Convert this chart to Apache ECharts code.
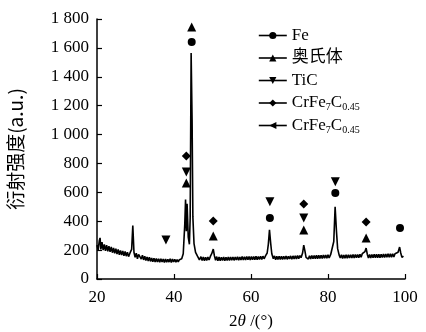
<!DOCTYPE html>
<html>
<head>
    <meta charset="UTF-8">
    <script type="text/javascript" src="https://cdn.jsdelivr.net/npm/echarts@6/dist/echarts.min.js"></script>
    <style type="text/css">
        *{
            margin: 0;
            padding: 0;
        }
        #main{
            width: 426px;
            height: 332px;
            background: #fff;
        }
    </style>
</head>
<body>
<div id="main"></div>
<script type="text/javascript">
    // XRD 曲线 [2θ, 强度]
    var curveLow = [
        [20, 235], [20.3, 200], [20.6, 265], [20.8, 285], [21.0, 205], [21.3, 255], [21.6, 200], [21.9, 240],
        [22.2, 195], [22.5, 235], [22.8, 192], [23.1, 228], [23.4, 188], [23.7, 222], [24, 182], [24.3, 215],
        [24.6, 178], [24.9, 210], [25.2, 172], [25.5, 205], [25.8, 168], [26.1, 198], [26.4, 165], [26.7, 195],
        [27, 160], [27.3, 190], [27.6, 158], [27.9, 186], [28.2, 155], [28.6, 182], [29, 205],
        [29.3, 370], [29.6, 185], [29.9, 150], [30.2, 178], [30.5, 140], [30.8, 170], [31.2, 182], [31.5, 138],
        [31.8, 165], [32.1, 132], [32.4, 158], [32.7, 128], [33, 152], [33.3, 125], [33.6, 150], [33.9, 122],
        [34.2, 146], [34.5, 120], [34.8, 143], [35.1, 118], [35.4, 142], [35.7, 117], [36, 140], [36.3, 116],
        [36.6, 140], [36.9, 118], [37.2, 138], [37.5, 115], [37.8, 138], [38.1, 116], [38.4, 137], [38.7, 117],
        [39, 140], [39.3, 115], [39.6, 138], [39.9, 118], [40.2, 136], [40.5, 117], [40.8, 135], [41.1, 118],
        [41.4, 134], [41.7, 122], [42, 140], [42.4, 175], [42.8, 380], [43.0, 550], [43.2, 330], [43.4, 520],
        [43.7, 290], [44, 240], [44.2, 420], [44.45, 1565], [44.7, 1100], [44.9, 430], [45.2, 245], [45.6, 185],
        [46.1, 158], [46.6, 132]
    ];
    var curveHigh = [
        [47, 155], [47.3, 128], [47.6, 152], [47.9, 126], [48.2, 150], [48.5, 128], [48.8, 152], [49.1, 132],
        [49.5, 160], [49.8, 175], [50.2, 207], [50.5, 160], [50.8, 130], [51.1, 155], [51.4, 126], [51.7, 152],
        [52, 127], [52.3, 150], [52.6, 128], [52.9, 152], [53.2, 127], [53.5, 150], [53.8, 129], [54.1, 152],
        [54.4, 128], [54.7, 152], [55, 130], [55.3, 153], [55.6, 129], [55.9, 152], [56.2, 131], [56.5, 154],
        [56.8, 130], [57.1, 153], [57.4, 131], [57.7, 155], [58, 132], [58.3, 154], [58.6, 131], [58.9, 155],
        [59.2, 133], [59.5, 155], [59.8, 132], [60.1, 156], [60.4, 133], [60.7, 155], [61, 134], [61.3, 157],
        [61.6, 133], [61.9, 156], [62.2, 135], [62.5, 157], [62.8, 136], [63.1, 158], [63.4, 140], [63.8, 162],
        [64.2, 180], [64.5, 240], [64.8, 340], [65.1, 250], [65.4, 175], [65.8, 140], [66.1, 160], [66.4, 134],
        [66.7, 158], [67, 135], [67.3, 157], [67.6, 136], [67.9, 158], [68.2, 135], [68.5, 158], [68.8, 137],
        [69.1, 159], [69.4, 136], [69.7, 158], [70, 138], [70.3, 160], [70.6, 137], [70.9, 160], [71.2, 139],
        [71.5, 161], [71.8, 139], [72.1, 162], [72.4, 140], [72.7, 162], [73, 148], [73.4, 180], [73.7, 235],
        [74, 195], [74.3, 150], [74.6, 162], [74.9, 138], [75.2, 161], [75.5, 139], [75.8, 162], [76.1, 140],
        [76.4, 163], [76.7, 140], [77, 164], [77.3, 141], [77.6, 164], [77.9, 142], [78.2, 165], [78.5, 142],
        [78.8, 166], [79.1, 143], [79.4, 166], [79.7, 144], [80, 167], [80.3, 146], [80.7, 170], [81.1, 178],
        [81.5, 260], [81.85, 500], [82.2, 330], [82.5, 210], [82.9, 165], [83.2, 145], [83.5, 168], [83.8, 142],
        [84.1, 166], [84.4, 143], [84.7, 167], [85, 144], [85.3, 168], [85.6, 145], [85.9, 168], [86.2, 146],
        [86.5, 169], [86.8, 146], [87.1, 170], [87.4, 147], [87.7, 170], [88, 148], [88.3, 172], [88.6, 150],
        [88.9, 175], [89.3, 168], [89.6, 190], [89.9, 214], [90.2, 172], [90.5, 146], [90.8, 170], [91.1, 146],
        [91.4, 170], [91.7, 147], [92, 171], [92.3, 147], [92.6, 171], [92.9, 148], [93.2, 172], [93.5, 148],
        [93.8, 172], [94.1, 149], [94.4, 173], [94.7, 149], [95, 173], [95.3, 150], [95.6, 174], [95.9, 150],
        [96.2, 174], [96.5, 151], [96.8, 175], [97.1, 152], [97.4, 175], [97.8, 165], [98.2, 185], [98.6, 221],
        [98.9, 180], [99.2, 150], [99.6, 158]
    ];

    // 物相标记
    var feMarks = [[44.6, 1640], [64.9, 422], [81.9, 595], [98.7, 353]];
    var austeniteMarks = [[44.6, 1744], [43.2, 664], [50.2, 297], [73.7, 339], [89.9, 284]];
    var ticMarks = [[37.9, 270], [43.2, 740], [64.9, 535], [73.7, 422], [81.9, 673]];
    var crfeMarks = [[43.2, 851], [50.2, 401], [73.7, 519], [89.9, 394]];
    var crfeMarks2 = [];

    var serif = '"Liberation Serif", "Noto Sans CJK SC", serif';
    var downTri = 'path://M0,0 L10,0 L5,9 Z';
    var leftTri = 'path://M0,5 L9,0 L9,10 Z';

    function markSeries(name, data, symbol, size) {
        return {
            name: name,
            type: 'line',
            data: data,
            symbol: symbol,
            symbolSize: size,
            showSymbol: true,
            lineStyle: {width: 0, opacity: 0},
            itemStyle: {color: '#000', borderWidth: 0},
            z: 5
        };
    }

    var myChart = echarts.init(document.getElementById('main'));
    var option = {
        backgroundColor: '#fff',
        animation: false,
        textStyle: {fontFamily: serif, color: '#000'},
        grid: {left: 97, right: 21, top: 19, bottom: 53, containLabel: false, outerBoundsMode: 'none'},
        legend: {
            orient: 'vertical',
            left: 253,
            top: 21,
            itemWidth: 28,
            itemHeight: 9,
            itemGap: 3.5,
            lineStyle: {width: 1.6, color: '#000', opacity: 1},
            itemStyle: {color: '#000'},
            data: ['Fe', '奥氏体', 'TiC', 'CrFe7C0.45', 'CrFe7C0.45 '],
            formatter: function (name) {
                if (name.trim() === 'CrFe7C0.45') {
                    return '{a|CrFe}{s|7}{a|C}{s|0.45}';
                }
                return '{a|' + name + '}';
            },
            textStyle: {
                color: '#000',
                fontFamily: serif,
                fontSize: 17,
                lineHeight: 19,
                rich: {
                    a: {fontSize: 17, fontFamily: serif, color: '#000', lineHeight: 19},
                    s: {fontSize: 10, fontFamily: serif, color: '#000', lineHeight: 19, padding: [9, 0, 0, 0]}
                }
            }
        },
        xAxis: {
            type: 'value',
            min: 20,
            max: 100,
            interval: 20,
            name: '{a|2}{i|θ}{a| /(°)}',
            nameLocation: 'middle',
            nameGap: 34,
            nameTextStyle: {
                rich: {
                    a: {fontSize: 17, fontFamily: serif, color: '#000'},
                    i: {fontSize: 17, fontFamily: serif, fontStyle: 'italic', color: '#000'}
                }
            },
            axisLine: {lineStyle: {color: '#000', width: 1.5}},
            axisTick: {inside: true, length: 5, lineStyle: {color: '#000', width: 1.2}},
            axisLabel: {fontSize: 17, color: '#000', fontFamily: serif, margin: 10},
            splitLine: {show: false}
        },
        yAxis: {
            type: 'value',
            min: 0,
            max: 1800,
            interval: 200,
            name: '衍射强度(a.u.)',
            nameLocation: 'middle',
            nameGap: 72,
            nameTextStyle: {fontSize: 19, fontFamily: '"Noto Sans CJK SC", "Liberation Serif"', color: '#000'},
            axisLine: {show: true, lineStyle: {color: '#000', width: 1.5}},
            axisTick: {show: true, inside: true, length: 5, lineStyle: {color: '#000', width: 1.2}},
            axisLabel: {
                fontSize: 17, color: '#000', fontFamily: serif, margin: 8,
                formatter: function (v) {
                    return v >= 1000 ? Math.floor(v / 1000) + ' ' + String(v % 1000).padStart(3, '0') : String(v);
                }
            },
            splitLine: {show: false}
        },
        series: [
            {
                name: 'XRD',
                type: 'line',
                data: curveLow.concat(curveHigh),
                showSymbol: false,
                symbol: 'none',
                lineStyle: {color: '#000', width: 1.6},
                z: 3
            },
            markSeries('Fe', feMarks, 'circle', 8),
            markSeries('奥氏体', austeniteMarks, 'triangle', 9),
            markSeries('TiC', ticMarks, downTri, 9),
            markSeries('CrFe7C0.45', crfeMarks, 'diamond', 9),
            markSeries('CrFe7C0.45 ', crfeMarks2, leftTri, 9)
        ]
    };
    myChart.setOption(option);
</script>
</body>
</html>
